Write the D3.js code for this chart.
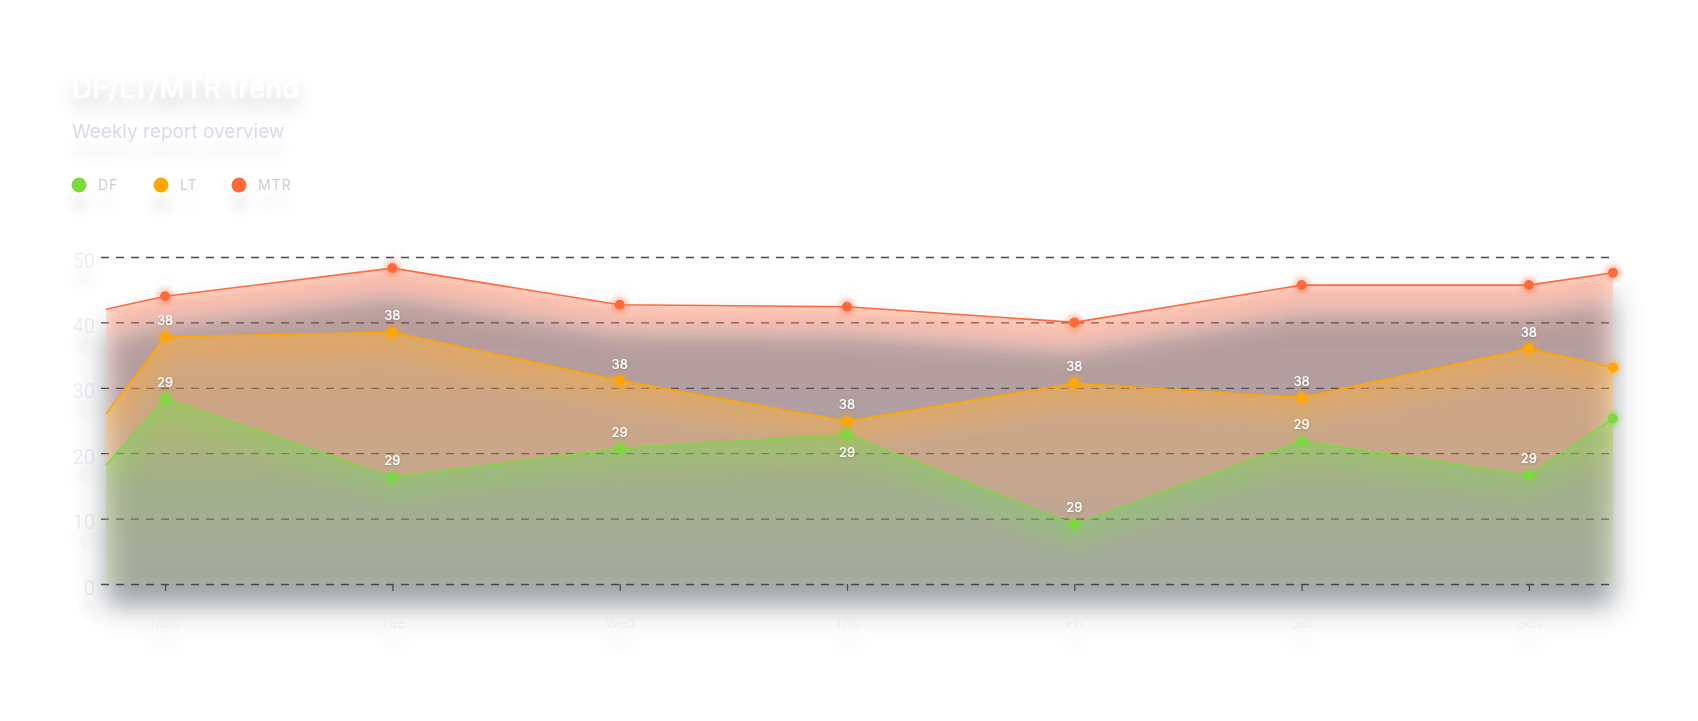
<!DOCTYPE html>
<html>
<head>
<meta charset="utf-8">
<script src="https://cdn.jsdelivr.net/npm/d3@7"></script>
<style>
  html, body { margin: 0; padding: 0; background: #ffffff; }
  svg { display: block; }
</style>
</head>
<body>
<svg id="chart"></svg>
<script>
// weekday categories, the first and last samples sit on the plot edges
const days = ["Mon", "Tue", "Wed", "Thu", "Fri", "Sat", "Sun"];
const sampleX = [-0.26, 0, 1, 2, 3, 4, 5, 6, 6.37];

const dfValues = [18.2, 28.3, 16.3, 20.7, 22.9, 9.1, 21.8, 16.6, 25.3];
const ltValues = [26.0, 37.8, 38.5, 31.1, 24.9, 30.7, 28.5, 36.0, 33.1];
const mtrValues = [42.0, 44.0, 48.3, 42.7, 42.4, 40.0, 45.7, 45.7, 47.6];

const seriesNames = ["DF", "LT", "MTR"];
const seriesColors = ["#7cd93f", "#ffa600", "#ff6a3d"];
const pointLabels = ["29", "38", "45"];
const yTicks = [0, 10, 20, 30, 40, 50];

const width = 1698;
const height = 721;
const plot = { left: 101, right: 1613, top: 257, bottom: 584 };

// area fill: [colour, opacity] at top, middle and bottom of each area
const fillStops = {
  DF: [["#7cd93f", 0.24], ["#52bb98", 0.2], ["#4fb4a4", 0.07]],
  LT: [["#ffa600", 0.26], ["#ffa600", 0.18], ["#ffa600", 0.06]],
  MTR: [["#ff6a3d", 0.12], ["#ff6a3d", 0.05], ["#ff6a3d", 0.0]]
};
const glowStrength = { DF: 0.2, LT: 0.22, MTR: 0.32 };

const svg = d3.select("svg#chart")
  .attr("width", width)
  .attr("height", height);

const defs = svg.append("defs");

// shadow made from the solid outline of the whole area stack
const chartShadow = defs.append("filter")
  .attr("id", "chartShadow")
  .attr("filterUnits", "userSpaceOnUse")
  .attr("x", 0).attr("y", 150).attr("width", width).attr("height", 560);
chartShadow.append("feComponentTransfer").attr("in", "SourceAlpha").attr("result", "solid")
  .append("feFuncA").attr("type", "linear").attr("slope", 40);
chartShadow.append("feGaussianBlur").attr("in", "solid").attr("stdDeviation", 14).attr("result", "blur");
chartShadow.append("feOffset").attr("in", "blur").attr("dy", 22).attr("result", "off");
chartShadow.append("feFlood").attr("flood-color", "#3a444e").attr("flood-opacity", 0.5);
chartShadow.append("feComposite").attr("in2", "off").attr("operator", "in").attr("result", "shadow");
const merge = chartShadow.append("feMerge");
merge.append("feMergeNode").attr("in", "shadow");
merge.append("feMergeNode").attr("in", "SourceGraphic");

function textShadow(id, dy, blur, opacity) {
  defs.append("filter")
    .attr("id", id)
    .attr("x", "-60%").attr("y", "-150%").attr("width", "220%").attr("height", "500%")
    .append("feDropShadow")
    .attr("dx", 0).attr("dy", dy)
    .attr("stdDeviation", blur)
    .attr("flood-color", "#000")
    .attr("flood-opacity", opacity);
}
textShadow("titleShadow", 10, 9, 0.2);
textShadow("softShadow", 18, 7, 0.09);
textShadow("labelShadow", 1, 1.5, 0.22);
textShadow("faintShadow", 2, 2, 0.05);

const dotGlow = defs.append("filter").attr("id", "dotGlow")
  .attr("x", "-100%").attr("y", "-100%").attr("width", "300%").attr("height", "300%");
dotGlow.append("feGaussianBlur").attr("stdDeviation", 2);

const bandBlur = defs.append("filter").attr("id", "bandBlur")
  .attr("filterUnits", "userSpaceOnUse")
  .attr("x", 0).attr("y", 150).attr("width", width).attr("height", 560);
bandBlur.append("feGaussianBlur").attr("stdDeviation", 9);

const x = d3.scaleLinear()
  .domain([-0.282, 6.37])
  .range([plot.left, plot.right]);

const y = d3.scaleLinear()
  .domain([0, 50])
  .range([plot.bottom, plot.top]);

const series = [dfValues, ltValues, mtrValues].map((vals, i) => ({
  name: seriesNames[i],
  color: seriesColors[i],
  label: pointLabels[i],
  points: vals.map((v, j) => ({ x: sampleX[j], v: v, idx: j }))
}));

series.forEach(s => {
  const g = defs.append("linearGradient")
    .attr("id", "fill-" + s.name)
    .attr("gradientUnits", "userSpaceOnUse")
    .attr("x1", 0).attr("x2", 0)
    .attr("y1", y(d3.max(s.points, p => p.v)))
    .attr("y2", y(0));
  g.selectAll("stop")
    .data(fillStops[s.name])
    .join("stop")
    .attr("offset", (d, i) => (i * 50) + "%")
    .attr("stop-color", d => d[0])
    .attr("stop-opacity", d => d[1]);
});

// title block
svg.append("text")
  .attr("x", 72).attr("y", 98)
  .attr("font-family", "Inter, 'Noto Sans', sans-serif")
  .attr("font-size", 28)
  .attr("font-weight", 500)
  .attr("fill", "#ffffff")
  .attr("filter", "url(#titleShadow)")
  .text("DF/LT/MTR trend");

svg.append("text")
  .attr("x", 72).attr("y", 138)
  .attr("font-family", "Inter, 'Noto Sans', sans-serif")
  .attr("font-size", 19)
  .attr("fill", "#dadae8")
  .attr("filter", "url(#softShadow)")
  .text("Weekly report overview");

// legend
const legendX = [79, 161, 239];
const legend = svg.append("g").selectAll("g")
  .data(seriesNames)
  .join("g")
  .attr("transform", (d, i) => "translate(" + legendX[i] + ",185)")
  .attr("filter", "url(#softShadow)");
legend.append("circle")
  .attr("r", 7.5)
  .attr("fill", (d, i) => seriesColors[i]);
legend.append("text")
  .attr("x", 19).attr("dy", "0.36em")
  .attr("font-family", "Inter, 'Noto Sans', sans-serif")
  .attr("font-size", 14)
  .attr("letter-spacing", 1)
  .attr("fill", "#cdcdcd")
  .text(d => d);

// grid + y labels
const yAxis = d3.axisLeft(y)
  .tickValues(yTicks)
  .tickSize(-(plot.right - plot.left))
  .tickPadding(6);

const yG = svg.append("g")
  .attr("transform", "translate(" + plot.left + ",0)")
  .call(yAxis);
yG.select(".domain").remove();
yG.selectAll(".tick line")
  .attr("stroke", "#4b4b55")
  .attr("stroke-width", 1.3)
  .attr("stroke-dasharray", "8,7");
yG.selectAll(".tick text")
  .attr("dy", "0.5em")
  .attr("font-family", "Roboto, 'Noto Sans', sans-serif")
  .attr("font-size", 20)
  .attr("fill", "#eeeef2")
  .attr("filter", "url(#softShadow)");

// areas
const area = d3.area()
  .x(d => x(d.x))
  .y0(y(0))
  .y1(d => y(d.v));

const line = d3.line()
  .x(d => x(d.x))
  .y(d => y(d.v));

const drawOrder = series.slice().reverse(); // MTR at the back, DF in front

drawOrder.forEach(s => {
  defs.append("clipPath")
    .attr("id", "clip-" + s.name)
    .append("path")
    .attr("d", area(s.points));
});

const stack = svg.append("g").attr("filter", "url(#chartShadow)");

const layers = stack.selectAll("g")
  .data(drawOrder)
  .join("g");

layers.append("path")
  .attr("d", d => area(d.points))
  .attr("fill", d => "url(#fill-" + d.name + ")");

// soft coloured band just under each line, kept inside its own area
layers.append("g")
  .attr("clip-path", d => "url(#clip-" + d.name + ")")
  .append("path")
  .attr("d", d => line(d.points))
  .attr("transform", "translate(0,8)")
  .attr("fill", "none")
  .attr("stroke", d => d.color)
  .attr("stroke-width", 26)
  .attr("stroke-opacity", d => glowStrength[d.name])
  .attr("filter", "url(#bandBlur)");

// x axis ticks and day labels
const xAxis = d3.axisBottom(x)
  .tickValues(d3.range(days.length))
  .tickFormat(i => days[i])
  .tickSize(7)
  .tickPadding(27);

const xG = svg.append("g")
  .attr("transform", "translate(0," + plot.bottom + ")")
  .call(xAxis);
xG.select(".domain").remove();
xG.selectAll(".tick line").attr("stroke", "#4b4b55").attr("stroke-width", 1.3);
xG.selectAll(".tick text")
  .attr("font-family", "Inter, 'Noto Sans', sans-serif")
  .attr("font-size", 14)
  .attr("fill", "#ededed")
  .attr("filter", "url(#softShadow)");

// lines
svg.append("g")
  .selectAll("path")
  .data(drawOrder)
  .join("path")
  .attr("d", d => line(d.points))
  .attr("fill", "none")
  .attr("stroke", d => d.color)
  .attr("stroke-width", 1.6);

// markers
const markers = svg.append("g")
  .selectAll("g")
  .data(drawOrder)
  .join("g");

markers.selectAll("circle.halo")
  .data(d => d.points.slice(1).map(p => Object.assign({ color: d.color }, p)))
  .join("circle")
  .attr("class", "halo")
  .attr("cx", d => x(d.x))
  .attr("cy", d => y(d.v))
  .attr("r", 9)
  .attr("fill", d => d.color)
  .attr("opacity", 0.28)
  .attr("filter", "url(#dotGlow)");

markers.selectAll("circle.dot")
  .data(d => d.points.slice(1).map(p => Object.assign({ color: d.color }, p)))
  .join("circle")
  .attr("class", "dot")
  .attr("cx", d => x(d.x))
  .attr("cy", d => y(d.v))
  .attr("r", 5)
  .attr("fill", d => d.color);

// value labels; DF moves under its point when the LT point is too close above
markers.selectAll("text")
  .data(d => d.points.slice(1, 1 + days.length).map(p => Object.assign({ name: d.name, label: d.label }, p)))
  .join("text")
  .attr("x", d => x(d.x))
  .attr("y", d => {
    const py = y(d.v);
    if (d.name === "DF" && py - y(ltValues[d.idx]) < 20) return py + 23;
    return py - 12;
  })
  .attr("text-anchor", "middle")
  .attr("font-family", "Inter, 'Noto Sans', sans-serif")
  .attr("font-size", 13)
  .attr("font-weight", 500)
  .attr("fill", "#ffffff")
  .attr("filter", d => d.name === "MTR" ? "url(#faintShadow)" : "url(#labelShadow)")
  .text(d => d.label);
</script>
</body>
</html>
